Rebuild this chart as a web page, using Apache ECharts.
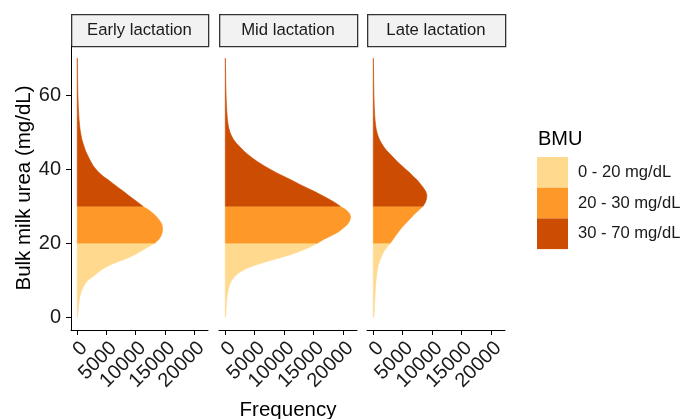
<!DOCTYPE html>
<html>
<head>
<meta charset="utf-8">
<script src="https://cdn.jsdelivr.net/npm/echarts@6/dist/echarts.min.js"></script>
<style>
  html, body { margin: 0; padding: 0; background: #fff; }
  #chart { width: 683px; height: 419px; }
</style>
</head>
<body>
<div id="chart"></div>
<script>
// urea levels (mg/dL) at which the histogram outline was read
var ureaLevels = [0, 1, 2, 3, 4, 5, 6, 7, 8, 9, 10, 11, 12, 13, 14, 15, 16, 17, 18, 19,
    20, 21, 22, 23, 24, 25, 26, 27, 28, 29, 30, 31, 32, 33, 34, 35, 36, 37, 38, 39,
    40, 41, 42, 43, 44, 45, 46, 47, 48, 49, 50, 51, 52, 53, 54, 55, 56, 57, 58, 59,
    60, 61, 62, 63, 64, 65, 66, 67, 68, 69, 70];

// frequency per lactation stage
var earlyFreq = [30, 80, 150, 220, 290, 380, 520, 700, 1000, 1350, 1850, 2700, 3500, 4350, 5500, 7000, 8700, 10000, 11100, 12200,
    13300, 13950, 14350, 14550, 14600, 14500, 14150, 13650, 13000, 12200, 11200, 10400, 9550, 8700, 7900, 7050, 6200, 5400, 4500, 3750,
    3200, 2700, 2350, 2000, 1700, 1420, 1200, 1000, 800, 670, 560, 470, 400, 340, 290, 250, 215, 185, 160, 140,
    120, 100, 90, 80, 70, 60, 50, 45, 35, 20, 15];
var midFreq = [40, 90, 130, 170, 220, 280, 350, 450, 600, 800, 1100, 1600, 2300, 3400, 5000, 7000, 9200, 11300, 13000, 14500,
    15700, 16700, 18000, 19200, 20000, 20700, 21100, 21300, 21100, 20500, 19500, 18600, 17500, 16300, 15100, 13800, 12500, 11300, 10000, 8700,
    7600, 6500, 5500, 4600, 3800, 3100, 2500, 1900, 1400, 1050, 800, 620, 490, 400, 340, 290, 250, 215, 185, 160,
    140, 120, 100, 90, 80, 70, 60, 50, 40, 20, 10];
var lateFreq = [100, 150, 180, 200, 230, 260, 300, 330, 370, 420, 480, 540, 620, 720, 850, 1050, 1300, 1550, 1900, 2400,
    2900, 3350, 3800, 4250, 4750, 5300, 5900, 6500, 7100, 7800, 8450, 8850, 9050, 9100, 8900, 8500, 8000, 7500, 6800, 6200,
    5500, 4800, 4100, 3500, 2900, 2300, 1800, 1400, 1050, 800, 620, 480, 390, 320, 270, 230, 200, 170, 150, 130,
    115, 100, 90, 80, 70, 60, 55, 50, 40, 30, 20];

var stageNames = ['Early lactation', 'Mid lactation', 'Late lactation'];
var bmuNames = ['0 - 20 mg/dL', '20 - 30 mg/dL', '30 - 70 mg/dL'];
var bmuBreaks = [0, 20, 30, 70];
var yTicks = [0, 20, 40, 60];
var xTicks = [0, 5000, 10000, 15000, 20000];

var colors = ['#FED98E', '#FE9929', '#CC4C02'];
var stageFreq = [earlyFreq, midFreq, lateFreq];
var panelLeft = [71, 219, 367];
var panelWidth = [137, 138, 138];
var font = 'Liberation Sans, Arial, sans-serif';

var chart = echarts.init(document.getElementById('chart'), null, {renderer: 'canvas'});

function areaSeries(facet, g) {
    var lo = bmuBreaks[g], hi = bmuBreaks[g + 1];
    var counts = stageFreq[facet];
    var pts = [];
    for (var i = 0; i < ureaLevels.length; i++) {
        if (ureaLevels[i] >= lo && ureaLevels[i] <= hi) {
            pts.push([counts[i], ureaLevels[i]]);
        }
    }
    return {
        type: 'custom',
        name: bmuNames[g],
        xAxisIndex: facet,
        yAxisIndex: facet,
        itemStyle: {color: colors[g]},
        silent: true,
        data: pts,
        renderItem: function (params, api) {
            if (params.dataIndex !== 0) return null;
            var poly = [api.coord([0, pts[0][1]])];
            for (var k = 0; k < pts.length; k++) poly.push(api.coord(pts[k]));
            poly.push(api.coord([0, pts[pts.length - 1][1]]));
            return {
                type: 'polygon',
                shape: {points: poly},
                style: {fill: colors[g], stroke: colors[g], lineWidth: 0.6}
            };
        }
    };
}

var grids = [], xAxes = [], yAxes = [], series = [], graphics = [];
for (var f = 0; f < 3; f++) {
    grids.push({
        left: panelLeft[f], width: panelWidth[f], top: 46, height: 284,
        containLabel: false, outerBoundsMode: 'none'
    });
    xAxes.push({
        type: 'value', gridIndex: f, min: -1065, max: 22365,
        axisLine: {show: true, onZero: false, lineStyle: {color: '#000', width: 1}},
        axisTick: {show: true, length: 5, lineStyle: {color: '#000'}, customValues: xTicks},
        axisLabel: {
            customValues: xTicks, rotate: 45, margin: 8, verticalAlign: 'top',
            fontFamily: font, fontSize: 20, color: '#1a1a1a',
            formatter: function (v) { return String(v); }
        },
        splitLine: {show: false}
    });
    yAxes.push({
        type: 'value', gridIndex: f, min: -3.49, max: 73.3,
        name: f === 0 ? 'Bulk milk urea (mg/dL)' : '',
        nameLocation: 'middle', nameGap: 36, nameRotate: 90,
        nameTextStyle: {fontFamily: font, fontSize: 20.5, color: '#000'},
        axisLine: {show: f === 0, onZero: false, lineStyle: {color: '#000', width: 1}},
        axisTick: {show: f === 0, length: 5, lineStyle: {color: '#000'}, customValues: yTicks},
        axisLabel: {
            show: f === 0, customValues: yTicks, margin: 10,
            fontFamily: font, fontSize: 20, color: '#1a1a1a'
        },
        splitLine: {show: false}
    });
    for (var g = 0; g < 3; g++) series.push(areaSeries(f, g));

    graphics.push({
        type: 'rect', left: panelLeft[f], top: 14,
        shape: {width: panelWidth[f], height: 32},
        style: {fill: '#F2F2F2', stroke: '#333', lineWidth: 1.3}
    });
    graphics.push({
        type: 'text', x: panelLeft[f] + panelWidth[f] / 2, y: 30,
        style: {
            text: stageNames[f], fontFamily: font, fontSize: 16.7, fill: '#1a1a1a',
            align: 'center', verticalAlign: 'middle'
        }
    });
}

graphics.push({
    type: 'text', x: 288, y: 410,
    style: {text: 'Frequency', fontFamily: font, fontSize: 20.5, fill: '#000', align: 'center', verticalAlign: 'middle'}
});
graphics.push({
    type: 'text', x: 538, y: 139,
    style: {text: 'BMU', fontFamily: font, fontSize: 20, fill: '#000', verticalAlign: 'middle'}
});

chart.setOption({
    animation: false,
    backgroundColor: '#fff',
    grid: grids,
    xAxis: xAxes,
    yAxis: yAxes,
    legend: {
        data: bmuNames,
        orient: 'vertical',
        left: 537, top: 157,
        icon: 'rect',
        itemWidth: 31, itemHeight: 30.7, itemGap: 0,
        selectedMode: false,
        padding: 0,
        textStyle: {fontFamily: font, fontSize: 16.6, color: '#1a1a1a', padding: [0, 0, 0, 5]}
    },
    graphic: graphics,
    series: series
});
</script>
</body>
</html>
